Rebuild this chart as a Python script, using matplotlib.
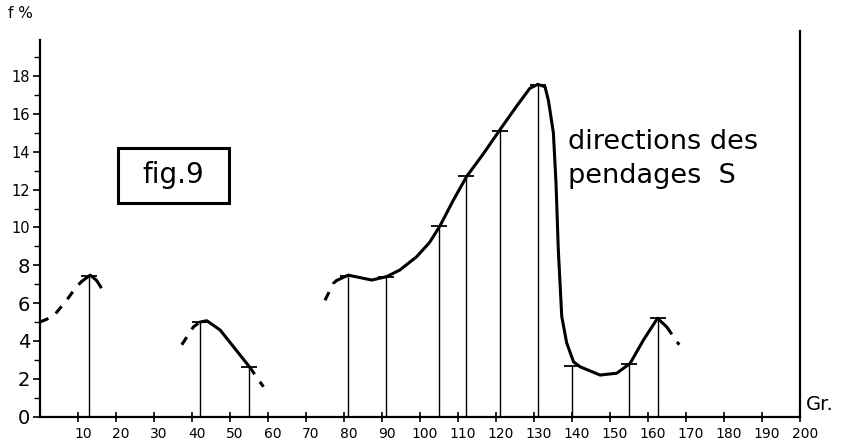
import matplotlib
matplotlib.use("Agg")
import matplotlib.pyplot as plt
import matplotlib.transforms as mtransforms
from matplotlib.patches import Rectangle

# stems: direction (grades) and frequency (%)
stem_x = [13, 42, 55, 81, 91, 105, 112, 121, 131, 140, 155, 162.5]
stem_y = [7.45, 5.0, 2.6, 7.45, 7.4, 10.1, 12.7, 15.1, 17.55, 2.7, 2.8, 5.2]

# curve pieces (dashed = extrapolated ends)
c1_dash_x = [0, 3.5, 7.0, 9.6, 11.0]
c1_dash_y = [5.0, 5.3, 6.15, 6.87, 7.15]
c1_x = [11.0, 13.2, 14.9]
c1_y = [7.15, 7.48, 7.2]
c1_end_x = [14.9, 17.4]
c1_end_y = [7.2, 6.4]

c2_dash_x = [37.3, 40.4, 42.1]
c2_dash_y = [3.8, 4.75, 5.0]
c2_x = [42.1, 43.9, 47.4, 50.9, 55.1]
c2_y = [5.0, 5.07, 4.58, 3.7, 2.64]
c2_end_x = [55.1, 58.8]
c2_end_y = [2.64, 1.58]

c3_dash_x = [75.0, 77.2, 78.1]
c3_dash_y = [6.15, 7.05, 7.2]
c3_x = [78.1, 81.1, 84.2, 87.3, 91.2, 94.7, 99.1, 102.5, 105.3, 108.8, 112.3,
        116.7, 121.0, 125.4, 128.9, 131.0, 132.9, 133.8, 135.1, 135.8, 136.4,
        137.3, 138.6, 140.4, 142.1, 147.4, 151.8, 155.3, 158.8, 162.5, 164.9]
c3_y = [7.2, 7.48, 7.35, 7.22, 7.4, 7.75, 8.45, 9.2, 10.1, 11.45, 12.7,
        13.9, 15.15, 16.4, 17.35, 17.56, 17.43, 16.7, 15.0, 12.3, 8.8,
        5.3, 3.9, 2.9, 2.64, 2.2, 2.3, 2.82, 4.05, 5.2, 4.75]
c3_end_x = [164.9, 168.2]
c3_end_y = [4.75, 3.8]

x_ticks = list(range(10, 201, 10))
x_labels = [str(v) for v in x_ticks]
y_ticks = list(range(0, 19, 2))
y_labels = [str(v) for v in y_ticks]

fig = plt.figure(figsize=(8.41, 4.42), dpi=100)
ax = fig.add_axes([40 / 841, 25.3 / 442, 760 / 841, 388 / 442])
ax.set_xlim(0, 200)
ax.set_ylim(0, 20.5)

k = "black"
solid = dict(color=k, lw=2.2, solid_capstyle="round", clip_on=False)
dashed = dict(color=k, lw=2.2, linestyle=(0, (3, 3)), clip_on=False)

ax.plot(c1_dash_x, c1_dash_y, **dashed)
ax.plot(c1_x, c1_y, **solid)
ax.plot(c1_end_x, c1_end_y, **dashed)
ax.plot(c2_dash_x, c2_dash_y, **dashed)
ax.plot(c2_x, c2_y, **solid)
ax.plot(c2_end_x, c2_end_y, **dashed)
ax.plot(c3_dash_x, c3_dash_y, **dashed)
ax.plot(c3_x, c3_y, **solid)
ax.plot(c3_end_x, c3_end_y, **dashed)

ax.vlines(stem_x, 0, stem_y, color=k, lw=1.0)
ax.plot(stem_x, stem_y, linestyle="none", marker="_", markersize=12,
        markeredgewidth=1.3, color=k)

# axes
for s in ["top", "right"]:
    ax.spines[s].set_visible(False)
ax.spines["left"].set_bounds(0, 19.9)
ax.spines["left"].set_linewidth(1.6)
ax.spines["bottom"].set_linewidth(1.6)
ax.plot([200, 200], [0, 20.4], color=k, lw=1.6, clip_on=False)

ax.set_xticks(x_ticks)
ax.set_xticklabels(x_labels, fontsize=10)
ax.tick_params(axis="x", direction="inout", length=7, width=1.2, pad=4)
offset = mtransforms.ScaledTranslation(5 / 100, 0, fig.dpi_scale_trans)
for lab in ax.get_xticklabels():
    lab.set_transform(lab.get_transform() + offset)

ax.set_yticks(y_ticks)
ax.set_yticklabels(y_labels)
ax.set_yticks(range(1, 20, 2), minor=True)
ax.tick_params(axis="y", which="major", direction="out", length=5, width=1.2, pad=2)
ax.tick_params(axis="y", which="minor", direction="out", length=4, width=1.0)
for lab in ax.get_yticklabels():
    lab.set_fontsize(14 if len(lab.get_text()) == 1 else 10.5)

fig.text(8 / 841, 1 - 14 / 442, "f %", fontsize=11, va="center", ha="left")
fig.text(806 / 841, 1 - 405 / 442, "Gr.", fontsize=14, va="center", ha="left")

# figure label box
ax.add_patch(Rectangle((20.5, 11.3), 29.2, 2.9, fill=False, ec=k, lw=2.2))
ax.text(35.1, 12.75, "fig.9", fontsize=20, ha="center", va="center")
ax.text(139, 13.6, "directions des\npendages  S", fontsize=19.5,
        ha="left", va="center", linespacing=1.4)

fig.savefig("out.png", dpi=100)
